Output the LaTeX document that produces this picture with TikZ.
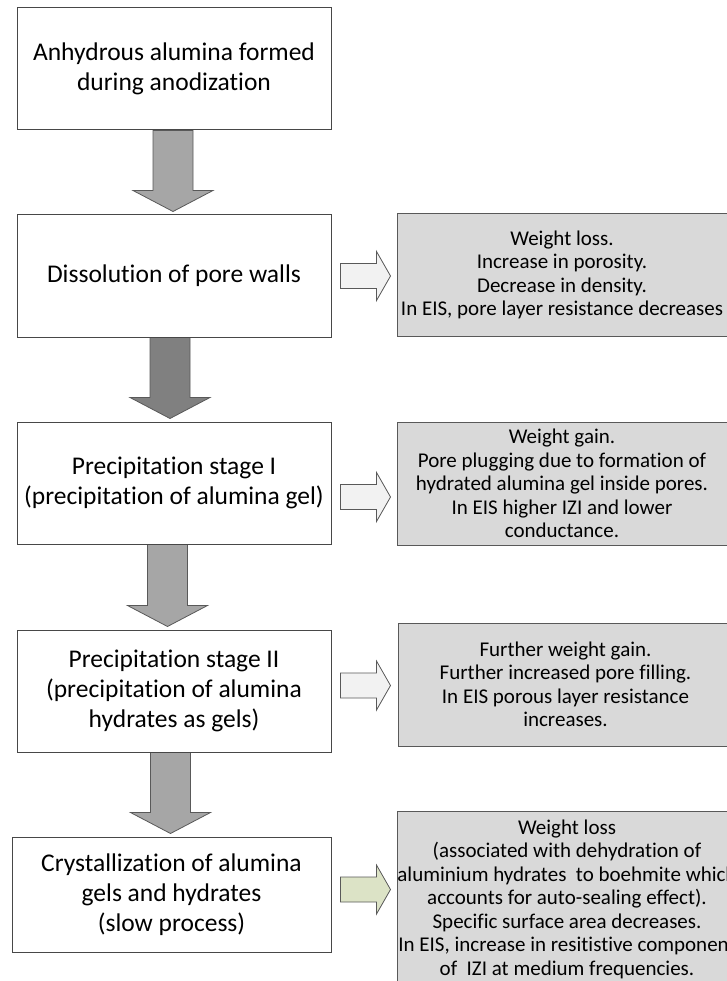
\documentclass[tikz,border=0pt]{standalone}
\usepackage{fontspec}
\setmainfont{Carlito}[Ligatures={NoCommon,NoContextual}]
\usetikzlibrary{calc,backgrounds}
\definecolor{arrgray}{HTML}{A6A6A6}
\definecolor{arrdark}{HTML}{808080}
\definecolor{arrlight}{HTML}{F2F2F2}
\definecolor{arrgreen}{HTML}{DCE3C6}
\definecolor{boxgray}{HTML}{D9D9D9}
\definecolor{edgegray}{HTML}{595959}
\definecolor{leftedge}{HTML}{474747}

\tikzset{
 leftbox/.style={draw=leftedge, line width=1pt, fill=white, minimum width=314pt, minimum height=122pt, inner sep=0pt, align=center, font=\fontsize{25.5}{30}\selectfont},
 rightbox/.style={draw=edgegray, line width=1pt, fill=boxgray, inner sep=0pt, align=center, font=\fontsize{21}{23.5}\selectfont},
 blockarrow/.style={draw=edgegray, line width=0.8pt, line join=miter},
}
% down block arrow: #1 fill, #2 x offset, #3 source node, #4 target node
\newcommand\mydarr[4]{%
 \draw[blockarrow,fill=#1]
  ($(#3.south)+(#2-20,0)$) -- ($(#3.south)+(#2+20,0)$)
  -- ($(#4.north -| #3.south)+(#2+20,-24)$) -- ($(#4.north -| #3.south)+(#2+40,-24)$)
  -- ($(#4.north -| #3.south)+(#2,-3)$)
  -- ($(#4.north -| #3.south)+(#2-40,-24)$) -- ($(#4.north -| #3.south)+(#2-20,-24)$) -- cycle;}
% right block arrow: #1 fill, #2 source node, #3 y offset
\newcommand\myrarr[3]{%
 \draw[blockarrow,fill=#1]
  ($(#2.east)+(9,#3-12.5)$) -- ($(#2.east)+(45,#3-12.5)$) -- ($(#2.east)+(45,#3-24.5)$)
  -- ($(#2.east)+(59,#3)$)
  -- ($(#2.east)+(45,#3+24.5)$) -- ($(#2.east)+(45,#3+12.5)$) -- ($(#2.east)+(9,#3+12.5)$) -- cycle;}

\begin{document}
\begin{tikzpicture}[x=1pt,y=-1pt]
\useasboundingbox (0,0) rectangle (727,981);

\node[leftbox] (b1) at (174,69) {Anhydrous alumina formed\\during anodization};
\node[leftbox] (b2) at (174,276) {Dissolution of pore walls};
\node[leftbox] (b3) at (174,483) {Precipitation stage I\\(precipitation of alumina gel)};
\node[leftbox] (b4) at (174,691) {Precipitation stage II\\(precipitation of alumina\\hydrates as gels)};
\node[leftbox, minimum width=319pt, minimum height=115pt] (b5) at (171.5,894.5) {Crystallization of alumina\\gels and hydrates\\(slow process)};

\node[rightbox, minimum width=330pt, minimum height=122pt] (r1) at (562,275) {Weight loss.\\Increase in porosity.\\Decrease in density.\\In EIS, pore layer resistance decreases};
\node[rightbox, minimum width=330pt, minimum height=123pt] (r2) at (562,483.5) {Weight gain.\\Pore plugging due to formation of\\hydrated alumina gel inside pores.\\In EIS higher IZI and lower\\conductance.};
\node[rightbox, minimum width=335pt, minimum height=123pt] (r3) at (565.5,684.5) {Further weight gain.\\Further increased pore filling.\\In EIS porous layer resistance\\increases.};
\node[rightbox, minimum width=338pt, minimum height=176pt] (r4) at (567,899) {Weight loss\\(associated with dehydration of\\aluminium hydrates\ \ to boehmite which\\accounts for auto-sealing effect).\\Specific surface area decreases.\\In EIS, increase in resitistive component\\of\ \ IZI at medium frequencies.};

\begin{scope}[on background layer]
\mydarr{arrgray}{-1}{b1}{b2}
\mydarr{arrdark}{-4}{b2}{b3}
\mydarr{arrgray}{-6.5}{b3}{b4}
\mydarr{arrgray}{-3.5}{b4}{b5}
\end{scope}

\myrarr{arrlight}{b2}{0}
\myrarr{arrlight}{b3}{14}
\myrarr{arrlight}{b4}{-5.5}
\myrarr{arrgreen}{b5}{-5}
\end{tikzpicture}
\end{document}
